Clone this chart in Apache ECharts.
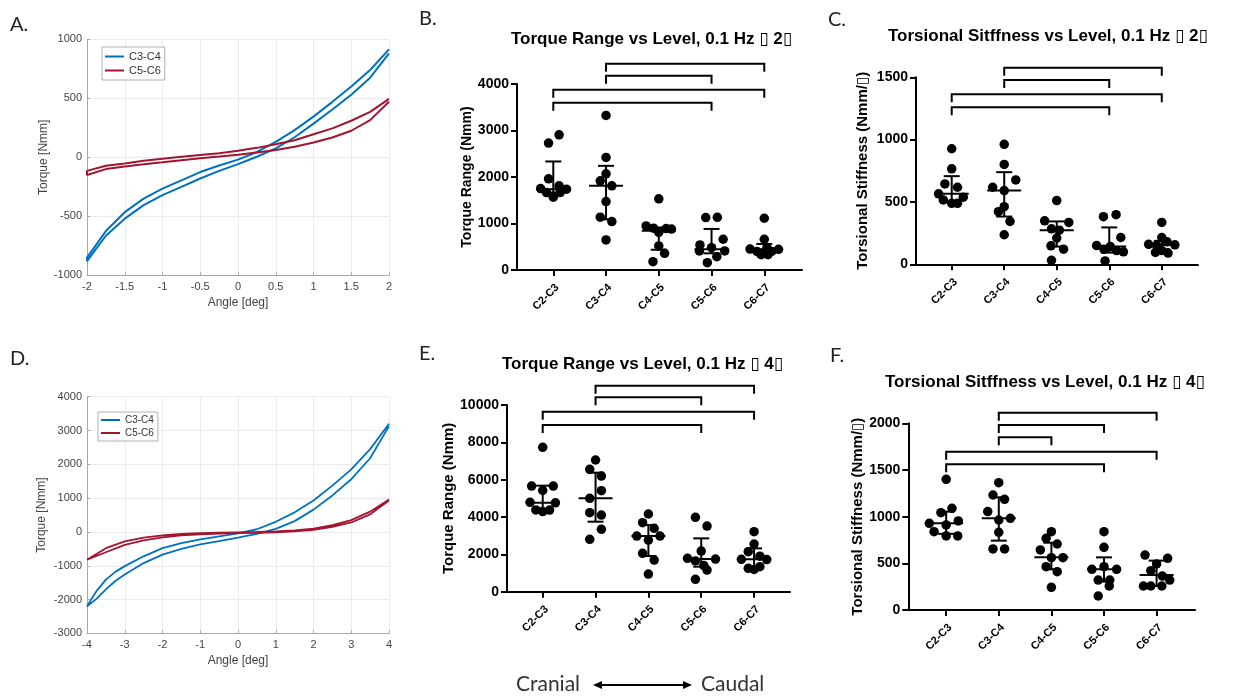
<!DOCTYPE html>
<html>
<head>
<meta charset="utf-8">
<script src="https://cdn.jsdelivr.net/npm/echarts@6/dist/echarts.min.js"></script>
<style>
  html, body { margin: 0; padding: 0; background: #fff; }
  #chart { width: 1236px; height: 698px; }
</style>
</head>
<body>
<div id="chart"></div>
<script>
// ---------- Data ----------
// Spinal levels on the dot plots
const levels = ['C2-C3', 'C3-C4', 'C4-C5', 'C5-C6', 'C6-C7'];

// Hysteresis loops at ±2° : [angle deg, torque Nmm], upper and lower branches
const loop2C34Upper = [[-2,-850],[-1.75,-625],[-1.5,-465],[-1.25,-350],[-1,-265],[-0.75,-195],[-0.5,-125],[-0.25,-70],[0,-20],[0.25,45],[0.5,130],[0.75,230],[1,345],[1.25,470],[1.5,600],[1.75,740],[2,915]];
const loop2C34Lower = [[-2,-880],[-1.75,-665],[-1.5,-520],[-1.25,-405],[-1,-320],[-0.75,-250],[-0.5,-180],[-0.25,-115],[0,-58],[0.25,5],[0.5,75],[0.75,170],[1,285],[1.25,405],[1.5,530],[1.75,675],[2,880]];
const loop2C56Upper = [[-2,-115],[-1.75,-72],[-1.5,-52],[-1.25,-30],[-1,-12],[-0.75,5],[-0.5,20],[-0.25,35],[0,55],[0.25,80],[0.5,110],[0.75,145],[1,195],[1.25,245],[1.5,310],[1.75,385],[2,495]];
const loop2C56Lower = [[-2,-150],[-1.75,-100],[-1.5,-78],[-1.25,-58],[-1,-42],[-0.75,-25],[-0.5,-8],[-0.25,6],[0,22],[0.25,40],[0.5,62],[0.75,90],[1,125],[1.25,168],[1.5,225],[1.75,315],[2,470]];

// Hysteresis loops at ±4°
const loop4C34Upper = [[-4,-2200],[-3.75,-1750],[-3.5,-1410],[-3.25,-1180],[-3,-1010],[-2.5,-720],[-2,-480],[-1.5,-330],[-1,-220],[-0.5,-130],[0,-40],[0.5,80],[1,300],[1.5,580],[2,930],[2.5,1370],[3,1850],[3.5,2450],[4,3200]];
const loop4C34Lower = [[-4,-2250],[-3.75,-1980],[-3.5,-1700],[-3.25,-1450],[-3,-1260],[-2.5,-920],[-2,-670],[-1.5,-500],[-1,-370],[-0.5,-270],[0,-170],[0.5,-60],[1,90],[1.5,320],[2,660],[2.5,1080],[3,1560],[3.5,2180],[4,3130]];
const loop4C56Upper = [[-4,-820],[-3.5,-480],[-3,-280],[-2.5,-170],[-2,-100],[-1.5,-60],[-1,-35],[-0.5,-20],[0,-10],[0.5,0],[1,15],[1.5,45],[2,100],[2.5,200],[3,350],[3.5,600],[4,960]];
const loop4C56Lower = [[-4,-870],[-3.5,-600],[-3,-380],[-2.5,-250],[-2,-160],[-1.5,-100],[-1,-70],[-0.5,-50],[0,-35],[0.5,-25],[1,-10],[1.5,15],[2,60],[2.5,150],[3,280],[3.5,520],[4,930]];

// Torque range (Nmm), 0.1 Hz ±2°: one list of specimens per level
const torque2Values = [
  [2908, 2729, 1960, 1810, 1752, 1738, 1666, 1666, 1566],
  [3325, 2420, 2068, 1917, 1810, 1471, 1135, 1041, 646],
  [1530, 948, 900, 890, 880, 810, 517, 359, 180],
  [1134, 1127, 661, 539, 481, 409, 409, 287, 158],
  [1113, 661, 480, 450, 445, 400, 400, 330, 330]
];
// horizontal spread of each dot, in level units
const torque2Spread = [
  [0.11, -0.09, -0.09, 0.11, -0.24, 0.25, -0.13, 0.13, 0],
  [0, 0, 0, -0.11, 0.11, 0, -0.11, 0.11, 0],
  [0, -0.24, -0.1, 0.14, 0.24, 0, 0, 0.11, -0.11],
  [0.11, -0.11, 0.22, -0.22, 0, 0.25, -0.23, 0.1, -0.08],
  [0, 0, 0.05, -0.27, 0.27, -0.14, 0.14, -0.06, 0.07]
];
const torque2Median = [1738, 1810, 845, 445, 445];
const torque2Q1 = [1666, 1090, 435, 359, 410];
const torque2Q3 = [2334, 2240, 915, 883, 560];
const torque2Brackets = [[1, 4, 4438], [1, 3, 4180], [0, 4, 3878], [0, 3, 3598]];

// Torsional stiffness (Nmm/°), 0.1 Hz ±2°
const stiff2Values = [
  [927, 766, 645, 618, 565, 538, 516, 489, 489],
  [962, 801, 677, 618, 591, 462, 422, 344, 237],
  [511, 349, 336, 285, 274, 210, 148, 121, 32],
  [398, 382, 215, 150, 142, 120, 110, 100, 27],
  [336, 215, 180, 160, 156, 150, 110, 95, 90]
];
const stiff2Spread = [
  [0, 0, -0.13, 0.11, -0.25, 0.22, -0.16, 0, 0.11],
  [0, 0, 0.22, -0.22, 0, 0, -0.11, 0.11, 0],
  [0, -0.23, 0.23, -0.1, 0.05, 0, -0.11, 0.13, -0.1],
  [0.13, -0.11, 0.22, -0.24, 0.02, -0.1, 0.14, 0.27, -0.08],
  [0, 0, 0.1, -0.25, 0.25, -0.1, 0, -0.12, 0.12]
];
const stiff2Median = [565, 591, 274, 142, 156];
const stiff2Q1 = [500, 383, 142, 94, 121];
const stiff2Q3 = [707, 739, 344, 296, 188];
const stiff2Brackets = [[1, 4, 1577], [1, 3, 1478], [0, 4, 1364], [0, 3, 1259]];

// Torque range (Nmm), 0.1 Hz ±4°
const torque4Values = [
  [7732, 5660, 5660, 5420, 4790, 4760, 4380, 4370, 4290],
  [7054, 6554, 6196, 5411, 5000, 4232, 4107, 3339, 2804],
  [4161, 3696, 3393, 2982, 2982, 2768, 2054, 1696, 946],
  [3982, 3518, 2179, 1786, 1750, 1650, 1400, 1161, 661],
  [3214, 2554, 2143, 1900, 1732, 1720, 1340, 1250, 1190]
];
const torque4Spread = [
  [0, -0.21, 0.2, 0, -0.24, 0.24, -0.13, 0.13, 0],
  [0, -0.11, 0.11, 0.11, -0.11, -0.11, 0.11, 0.11, -0.11],
  [0, -0.11, 0.11, -0.22, 0.22, 0, -0.11, 0.11, 0],
  [-0.11, 0.11, 0, -0.26, 0.27, -0.11, 0.05, 0.11, -0.11],
  [0, 0, -0.11, 0.11, -0.24, 0.24, 0.11, -0.11, 0]
];
const torque4Median = [4768, 5000, 2982, 1750, 1732];
const torque4Q1 = [4440, 3750, 1911, 1339, 1300];
const torque4Q3 = [5679, 6375, 3571, 2857, 2321];
const torque4Brackets = [[1, 4, 11036], [1, 3, 10414], [0, 4, 9643], [0, 3, 8930]];

// Torsional stiffness (Nmm/°), 0.1 Hz ±4°
const stiff4Values = [
  [1400, 1089, 1043, 954, 929, 911, 839, 793, 793],
  [1364, 1232, 1186, 1054, 982, 964, 832, 654, 654],
  [839, 768, 707, 643, 561, 561, 464, 411, 243],
  [839, 671, 464, 436, 436, 321, 321, 257, 150],
  [589, 554, 493, 421, 364, 321, 257, 257, 257]
];
const stiff4Spread = [
  [0, 0.11, -0.1, 0.23, -0.32, 0, -0.23, 0, 0.22],
  [0, -0.11, 0.11, -0.21, 0.22, 0, 0, -0.11, 0.11],
  [0, -0.1, 0.11, -0.21, 0, 0.22, -0.1, 0.11, 0],
  [0, 0, 0, -0.23, 0.24, -0.11, 0.11, 0.1, -0.11],
  [-0.22, 0.21, 0, -0.11, 0.11, 0.25, -0.25, -0.11, 0.1]
];
const stiff4Median = [929, 982, 564, 436, 375];
const stiff4Q1 = [816, 743, 436, 304, 257];
const stiff4Q3 = [1054, 1207, 721, 564, 529];
const stiff4Brackets = [[1, 4, 2114], [1, 3, 1982], [1, 2, 1850], [0, 4, 1696], [0, 3, 1561]];

// ---------- Helpers ----------
const prismFont = "'Liberation Sans', Arial, 'DejaVu Sans', sans-serif";
const matFont = "'Liberation Sans', Arial, sans-serif";
const letterFont = "Lato, 'Open Sans', sans-serif";

// closed loop: upper branch right-to-left, then lower branch left-to-right
function loop(upper, lower) {
  return upper.slice().reverse().concat(lower);
}

function dots(values, spread) {
  const out = [];
  values.forEach((list, i) => list.forEach((v, k) => out.push([i + spread[i][k], v])));
  return out;
}

function bars(median, q1, q3) {
  return levels.map((_, i) => [i, median[i], q1[i], q3[i]]);
}

// median line with interquartile whiskers
function renderErrorBar(params, api) {
  const i = api.value(0);
  const m = api.coord([i, api.value(1)]);
  const lo = api.coord([i, api.value(2)]);
  const hi = api.coord([i, api.value(3)]);
  const style = { stroke: '#000', lineWidth: 2 };
  const seg = (x1, y1, x2, y2) => ({ type: 'line', shape: { x1, y1, x2, y2 }, style });
  return {
    type: 'group',
    children: [
      seg(lo[0], lo[1], hi[0], hi[1]),
      seg(m[0] - 17, m[1], m[0] + 17, m[1]),
      seg(lo[0] - 8, lo[1], lo[0] + 8, lo[1]),
      seg(hi[0] - 8, hi[1], hi[0] + 8, hi[1])
    ]
  };
}

// significance bracket between two levels
function renderBracket(params, api) {
  const y = api.value(2);
  const a = api.coord([api.value(0), y]);
  const b = api.coord([api.value(1), y]);
  return {
    type: 'polyline',
    shape: { points: [[a[0], a[1] + 8], [a[0], a[1]], [b[0], b[1]], [b[0], b[1] + 8]] },
    style: { stroke: '#000', lineWidth: 2, fill: null }
  };
}

// ---------- Axes ----------
function matX(grid, min, max, interval) {
  return {
    gridIndex: grid, type: 'value', min, max, interval,
    name: 'Angle [deg]', nameLocation: 'middle', nameGap: 21,
    nameTextStyle: { fontFamily: matFont, fontSize: 12, color: '#444' },
    axisLine: { onZero: false, lineStyle: { color: '#a8a8a8', width: 1 } },
    axisTick: { inside: true, length: 3, lineStyle: { color: '#a8a8a8' } },
    axisLabel: { fontFamily: matFont, fontSize: 11, color: '#444', margin: 6 },
    splitLine: { show: true, lineStyle: { color: '#ebebeb', width: 1 } }
  };
}
function matY(grid, min, max, interval, gap) {
  return {
    gridIndex: grid, type: 'value', min, max, interval,
    name: 'Torque [Nmm]', nameLocation: 'middle', nameGap: gap,
    nameTextStyle: { fontFamily: matFont, fontSize: 12, color: '#444' },
    axisLine: { show: true, onZero: false, lineStyle: { color: '#a8a8a8', width: 1 } },
    axisTick: { show: true, inside: true, length: 3, lineStyle: { color: '#a8a8a8' } },
    axisLabel: { fontFamily: matFont, fontSize: 11, color: '#444', margin: 5, formatter: v => String(v) },
    splitLine: { show: true, lineStyle: { color: '#ebebeb', width: 1 } }
  };
}
function prismX(grid, min, max) {
  const idx = levels.map((_, i) => i);
  return {
    gridIndex: grid, type: 'value', min, max,
    axisLine: { onZero: false, lineStyle: { color: '#000', width: 2 } },
    axisTick: { show: true, customValues: idx, length: 6, lineStyle: { color: '#000', width: 2 } },
    axisLabel: {
      customValues: idx, rotate: 45, margin: 12, verticalAlign: 'top',
      fontFamily: prismFont, fontWeight: 'bold', fontSize: 11, color: '#000',
      formatter: v => levels[Math.round(v)]
    },
    splitLine: { show: false }
  };
}
function prismY(grid, max, interval, name, gap, nameSize) {
  return {
    gridIndex: grid, type: 'value', min: 0, max, interval,
    name, nameLocation: 'middle', nameGap: gap,
    nameTextStyle: { fontFamily: prismFont, fontWeight: 'bold', fontSize: nameSize, color: '#000' },
    axisLine: { show: true, onZero: false, lineStyle: { color: '#000', width: 2 } },
    axisTick: { show: true, length: 6, lineStyle: { color: '#000', width: 2 } },
    axisLabel: { fontFamily: prismFont, fontWeight: 'bold', fontSize: 14, color: '#000', margin: 8, formatter: v => String(v) },
    splitLine: { show: false }
  };
}

// ---------- Series ----------
function loopSeries(name, grid, data, color, width) {
  return {
    type: 'line', name, xAxisIndex: grid, yAxisIndex: grid, data,
    symbol: 'none', lineStyle: { color, width }, itemStyle: { color }, z: 3
  };
}
function dotPanel(grid, values, spread, median, q1, q3, brackets) {
  return [
    {
      type: 'scatter', xAxisIndex: grid, yAxisIndex: grid,
      data: dots(values, spread), symbolSize: 9.5, itemStyle: { color: '#000', opacity: 1 }, z: 3
    },
    {
      type: 'custom', xAxisIndex: grid, yAxisIndex: grid, clip: false,
      data: bars(median, q1, q3), renderItem: renderErrorBar, z: 4
    },
    {
      type: 'custom', xAxisIndex: grid, yAxisIndex: grid, clip: false,
      data: brackets, renderItem: renderBracket, z: 4
    }
  ];
}

const titleStyle = { fontFamily: prismFont, fontWeight: 'bold', fontSize: 17, color: '#000' };
const legendBase = {
  orient: 'vertical', selectedMode: false, itemGap: 4, icon: 'rect',
  borderColor: '#b0b0b0', borderWidth: 1, borderRadius: 0, backgroundColor: '#fff',
  data: ['C3-C4', 'C5-C6']
};

const option = {
  animation: false,
  backgroundColor: '#fff',
  title: [
    { text: 'Torque Range vs Level, 0.1 Hz \u25AF 2\u25AF', left: 511, top: 31, padding: 0, textStyle: titleStyle },
    { text: 'Torsional Sitffness vs Level, 0.1 Hz \u25AF 2\u25AF', left: 888, top: 28, padding: 0, textStyle: titleStyle },
    { text: 'Torque Range vs Level, 0.1 Hz \u25AF 4\u25AF', left: 502, top: 356, padding: 0, textStyle: titleStyle },
    { text: 'Torsional Sitffness vs Level, 0.1 Hz \u25AF 4\u25AF', left: 885, top: 374, padding: 0, textStyle: titleStyle }
  ],
  legend: [
    Object.assign({}, legendBase, {
      left: 102, top: 47, itemWidth: 19, itemHeight: 2, itemGap: 3, padding: [4, 4, 4, 3],
      textStyle: { fontFamily: matFont, fontSize: 11, color: '#333', lineHeight: 11 }
    }),
    Object.assign({}, legendBase, {
      left: 98, top: 412, itemWidth: 19, itemHeight: 2, itemGap: 3, padding: [3, 4, 3, 3],
      textStyle: { fontFamily: matFont, fontSize: 10, color: '#333', lineHeight: 10 }
    })
  ],
  grid: [
    { left: 87, top: 39.3, width: 302, height: 236 },     // A
    { left: 87, top: 396.7, width: 302, height: 236.7 },  // D
    { left: 517, top: 84, width: 285, height: 186 },      // B
    { left: 916, top: 77.3, width: 282, height: 187 },    // C
    { left: 507, top: 405, width: 283, height: 186.7 },   // E
    { left: 908.3, top: 423.3, width: 286.7, height: 186.7 } // F
  ],
  xAxis: [
    matX(0, -2, 2, 0.5),
    matX(1, -4, 4, 1),
    prismX(2, -0.688, 4.715),
    prismX(3, -0.68, 4.69),
    prismX(4, -0.676, 4.68),
    prismX(5, -0.72, 4.73)
  ],
  yAxis: [
    matY(0, -1000, 1000, 500, 36),
    matY(1, -3000, 4000, 1000, 39),
    prismY(2, 4000, 1000, 'Torque Range (Nmm)', 43, 14),
    prismY(3, 1500, 500, 'Torsional Stiffness (Nmm/\u25AF)', 46, 15),
    prismY(4, 10000, 2000, 'Torque Range (Nmm)', 51, 15),
    prismY(5, 2000, 500, 'Torsional Stiffness (Nmm/\u25AF)', 43, 15)
  ],
  graphic: [
    { type: 'text', left: 10, top: 15, style: { text: 'A.', font: "20px " + letterFont, fill: '#222' } },
    { type: 'text', left: 419, top: 9, style: { text: 'B.', font: "20px " + letterFont, fill: '#222' } },
    { type: 'text', left: 828, top: 10, style: { text: 'C.', font: "20px " + letterFont, fill: '#222' } },
    { type: 'text', left: 10, top: 349, style: { text: 'D.', font: "20px " + letterFont, fill: '#222' } },
    { type: 'text', left: 419, top: 344, style: { text: 'E.', font: "20px " + letterFont, fill: '#222' } },
    { type: 'text', left: 830, top: 346, style: { text: 'F.', font: "20px " + letterFont, fill: '#222' } },
    { type: 'text', left: 516, top: 674, style: { text: 'Cranial', font: "21px " + letterFont, fill: '#333' } },
    { type: 'text', left: 701, top: 674, style: { text: 'Caudal', font: "21px " + letterFont, fill: '#333' } },
    { type: 'line', shape: { x1: 598, y1: 685, x2: 687, y2: 685 }, style: { stroke: '#000', lineWidth: 2 } },
    { type: 'polygon', shape: { points: [[593, 685], [602, 681], [602, 689]] }, style: { fill: '#000' } },
    { type: 'polygon', shape: { points: [[692, 685], [683, 681], [683, 689]] }, style: { fill: '#000' } }
  ],
  series: [
    loopSeries('C3-C4', 0, loop(loop2C34Upper, loop2C34Lower), '#0072BD', 2),
    loopSeries('C5-C6', 0, loop(loop2C56Upper, loop2C56Lower), '#A2142F', 2),
    loopSeries('C3-C4', 1, loop(loop4C34Upper, loop4C34Lower), '#0072BD', 1.8),
    loopSeries('C5-C6', 1, loop(loop4C56Upper, loop4C56Lower), '#A2142F', 1.8),
    ...dotPanel(2, torque2Values, torque2Spread, torque2Median, torque2Q1, torque2Q3, torque2Brackets),
    ...dotPanel(3, stiff2Values, stiff2Spread, stiff2Median, stiff2Q1, stiff2Q3, stiff2Brackets),
    ...dotPanel(4, torque4Values, torque4Spread, torque4Median, torque4Q1, torque4Q3, torque4Brackets),
    ...dotPanel(5, stiff4Values, stiff4Spread, stiff4Median, stiff4Q1, stiff4Q3, stiff4Brackets)
  ]
};

const chart = echarts.init(document.getElementById('chart'), null, { renderer: 'canvas' });
chart.setOption(option);
</script>
</body>
</html>
